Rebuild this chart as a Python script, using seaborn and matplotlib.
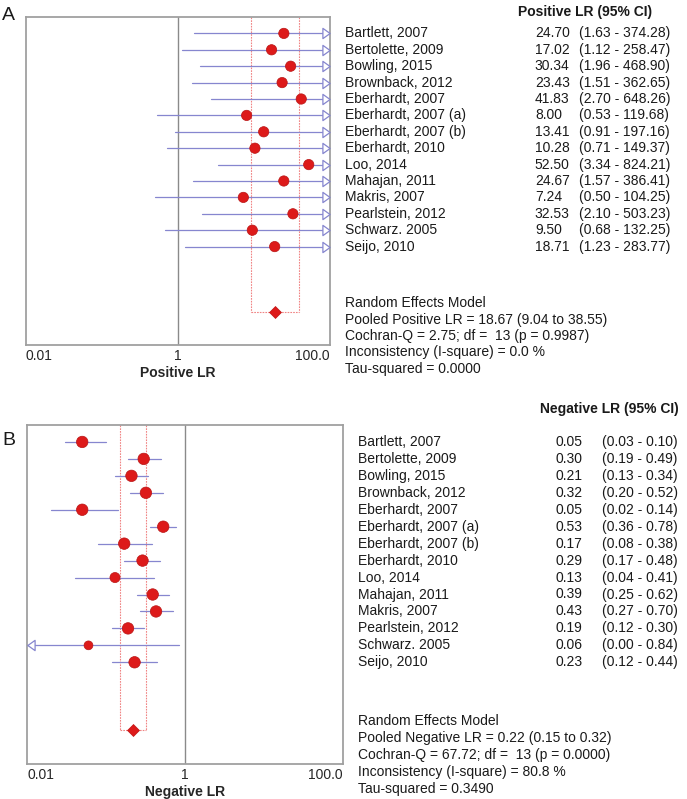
import numpy as np
import pandas as pd
import matplotlib
matplotlib.use("Agg")
import matplotlib.pyplot as plt
import matplotlib.path as mpath
import matplotlib.transforms as mtransforms
import seaborn as sns

# ---------------------------------------------------------
# Data
# ---------------------------------------------------------
studies = ["Bartlett, 2007", "Bertolette, 2009", "Bowling, 2015", "Brownback, 2012",
           "Eberhardt, 2007", "Eberhardt, 2007 (a)", "Eberhardt, 2007 (b)", "Eberhardt, 2010",
           "Loo, 2014", "Mahajan, 2011", "Makris, 2007", "Pearlstein, 2012",
           "Schwarz. 2005", "Seijo, 2010"]

pos_lr = [24.70, 17.02, 30.34, 23.43, 41.83, 8.00, 13.41, 10.28, 52.50, 24.67, 7.24, 32.53, 9.50, 18.71]
pos_lo = [1.63, 1.12, 1.96, 1.51, 2.70, 0.53, 0.91, 0.71, 3.34, 1.57, 0.50, 2.10, 0.68, 1.23]
pos_hi = [374.28, 258.47, 468.90, 362.65, 648.26, 119.68, 197.16, 149.37, 824.21, 386.41,
          104.25, 503.23, 132.25, 283.77]
pos_wt = [1.0] * 14

neg_lr = [0.05, 0.30, 0.21, 0.32, 0.05, 0.53, 0.17, 0.29, 0.13, 0.39, 0.43, 0.19, 0.06, 0.23]
neg_lo = [0.03, 0.19, 0.13, 0.20, 0.02, 0.36, 0.08, 0.17, 0.04, 0.25, 0.27, 0.12, 0.00, 0.12]
neg_hi = [0.10, 0.49, 0.34, 0.52, 0.14, 0.78, 0.38, 0.48, 0.41, 0.62, 0.70, 0.30, 0.84, 0.44]
neg_wt = [1.0, 1.0, 1.0, 1.0, 1.0, 1.0, 1.0, 1.0, 0.88, 1.0, 1.0, 1.0, 0.77, 1.0]

pos_pooled = [18.67, 9.04, 38.55]
neg_pooled = [0.22, 0.15, 0.32]

pos_stats = ["Random Effects Model",
             "Pooled Positive LR = 18.67 (9.04 to 38.55)",
             "Cochran-Q = 2.75; df =  13 (p = 0.9987)",
             "Inconsistency (I-square) = 0.0 %",
             "Tau-squared = 0.0000"]
neg_stats = ["Random Effects Model",
             "Pooled Negative LR = 0.22 (0.15 to 0.32)",
             "Cochran-Q = 67.72; df =  13 (p = 0.0000)",
             "Inconsistency (I-square) = 80.8 %",
             "Tau-squared = 0.3490"]

tick_vals = [0.01, 1, 100]
tick_text = ["0.01", "1", "100.0"]

# ---------------------------------------------------------
# Styling
# ---------------------------------------------------------
sns.set_theme(style="white")
plt.rcParams["font.family"] = ["Liberation Sans", "DejaVu Sans"]
plt.rcParams["text.color"] = "#1a1a1a"

CI_COL = "#8686cf"
DOT_COL = "#dd1a1a"
POOL_COL = "#f08484"
FRAME_COL = "#a0a0a0"
FS = 10

W, H = 687, 799
fig = plt.figure(figsize=(W / 100, H / 100), dpi=100)

# open triangles used where a CI runs past the axis limit
tri_right = mpath.Path([(0.7, 0), (-0.7, -1), (-0.7, 1), (0.7, 0)],
                       [1, 2, 2, 79])
tri_left = mpath.Path([(-0.7, 0), (0.7, -1), (0.7, 1), (-0.7, 0)],
                      [1, 2, 2, 79])


def forest(rect, lr, lo, hi, wt, base_s, pooled, stats, header, header_xy, xlabel, tag, tag_xy):
    ax = fig.add_axes(rect)
    n = len(lr)
    xmin, xmax = tick_vals[0], tick_vals[-1]
    df = pd.DataFrame({"study": studies, "lr": lr, "lo": lo, "hi": hi, "wt": wt,
                       "row": np.arange(n)})

    ax.set_xscale("log")
    ax.set_xlim(xmin, xmax)
    ax.set_ylim(19, -1)

    # reference line at LR = 1
    ax.axvline(1, color="#8a8a8a", lw=1.0, zorder=1)

    # pooled CI guides (dotted box down to the diamond)
    pool_row = n + 3
    for xv in pooled[1:]:
        ax.plot([xv, xv], [-1, pool_row], color=POOL_COL, lw=0.8, ls=(0, (1.5, 1)), zorder=1)
    ax.plot(pooled[1:], [pool_row, pool_row], color=POOL_COL, lw=0.8, ls=(0, (1.5, 1)), zorder=1)

    # confidence intervals, clipped with arrows at the edges
    right_off = mtransforms.offset_copy(ax.transData, fig=fig, x=-2.6, units="points")
    left_off = mtransforms.offset_copy(ax.transData, fig=fig, x=2.6, units="points")
    for _, r in df.iterrows():
        x0 = max(r["lo"], xmin)
        x1 = min(r["hi"], xmax)
        ax.plot([x0, x1], [r["row"], r["row"]], color=CI_COL, lw=0.9, zorder=2)
        if r["hi"] > xmax:
            ax.plot([xmax], [r["row"]], marker=tri_right, ms=7.4, mfc="white", mec=CI_COL,
                    mew=0.9, transform=right_off, clip_on=False, zorder=3)
        if r["lo"] < xmin:
            ax.plot([xmin], [r["row"]], marker=tri_left, ms=7.4, mfc="white", mec=CI_COL,
                    mew=0.9, transform=left_off, clip_on=False, zorder=3)

    # study estimates, marker area by study weight
    size_map = {w: base_s * w ** 2 for w in df["wt"].unique()}
    sns.scatterplot(data=df, x="lr", y="row", size="wt", sizes=size_map,
                    color=DOT_COL, edgecolor="#b81414", linewidth=0.5, legend=False,
                    ax=ax, zorder=4)

    # pooled diamond
    ax.plot([pooled[0]], [pool_row], marker="D", ms=6.6, color=DOT_COL, mec="#c01414",
            mew=0.5, zorder=4)

    # frame and ticks
    for sp in ax.spines.values():
        sp.set_color(FRAME_COL)
        sp.set_linewidth(1.3)
    ax.set_yticks([])
    ax.set_ylabel("")
    ax.set_xticks(tick_vals)
    ax.minorticks_off()
    ax.set_xticklabels(tick_text, fontsize=FS)
    for lab, ha in zip(ax.get_xticklabels(), ["left", "center", "right"]):
        lab.set_ha(ha)
    ax.tick_params(axis="x", length=0, pad=3)
    ax.set_xlabel(xlabel, fontsize=FS, fontweight="bold", labelpad=2)

    # right-hand text columns
    tr = mtransforms.blended_transform_factory(ax.transAxes, ax.transData)
    for _, r in df.iterrows():
        ax.text(1.048, r["row"], r["study"], transform=tr, fontsize=FS, va="center")
        ax.text(1.674, r["row"], f"{r['lr']:.2f}", transform=tr, fontsize=FS, va="center")
        ax.text(1.82, r["row"], f"({r['lo']:.2f} - {r['hi']:.2f})", transform=tr,
                fontsize=FS, va="center")
    for i, line in enumerate(stats):
        ax.text(1.048, n + 2.45 + i, line, transform=tr, fontsize=FS, va="center")

    fig.text(header_xy[0] / W, 1 - header_xy[1] / H, header, fontsize=FS,
             fontweight="bold", va="center", ha="left")
    fig.text(tag_xy[0] / W, 1 - tag_xy[1] / H, tag, fontsize=14, va="center", ha="left")
    return ax


forest([26 / W, 1 - 345 / H, 304 / W, 328 / H], pos_lr, pos_lo, pos_hi, pos_wt, 55,
       pos_pooled, pos_stats, "Positive LR (95% CI)", (518, 12), "Positive LR", "A", (2, 15))
forest([27 / W, 1 - 764 / H, 316 / W, 339 / H], neg_lr, neg_lo, neg_hi, neg_wt, 68,
       neg_pooled, neg_stats, "Negative LR (95% CI)", (540, 409), "Negative LR", "B", (2, 440))

fig.savefig("out.png", dpi=100)
